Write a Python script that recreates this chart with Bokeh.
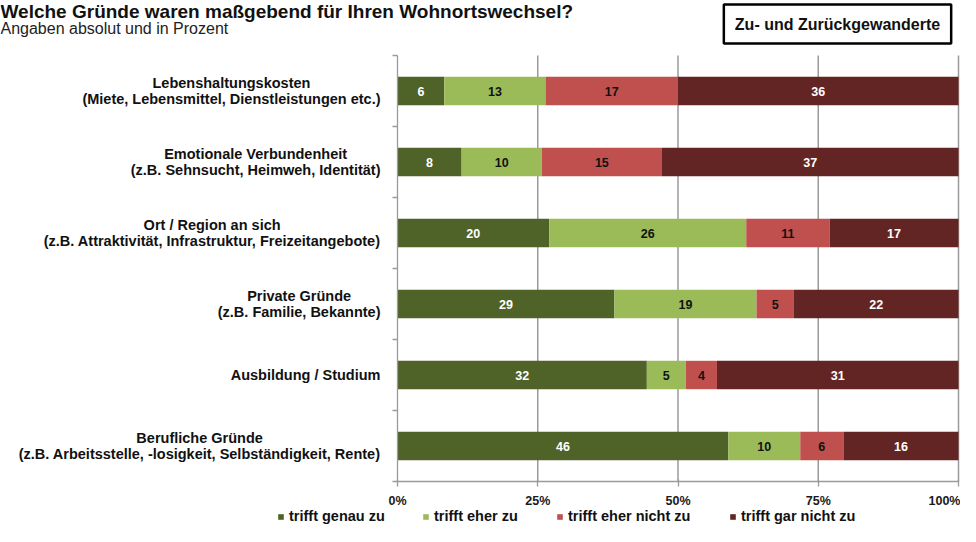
from bokeh.plotting import figure
from bokeh.models import Label, Legend, LegendItem, FixedTicker, ColumnDataSource, Range1d
from bokeh.embed import file_html
from bokeh.resources import INLINE
from bokeh.core.properties import value

# ---------------- data ----------------
categories = [
    "Lebenshaltungskosten\n(Miete, Lebensmittel, Dienstleistungen etc.)",
    "Emotionale Verbundenheit\n(z.B. Sehnsucht, Heimweh, Identität)",
    "Ort / Region an sich\n(z.B. Attraktivität, Infrastruktur, Freizeitangebote)",
    "Private Gründe\n(z.B. Familie, Bekannte)",
    "Ausbildung / Studium",
    "Berufliche Gründe\n(z.B. Arbeitsstelle, -losigkeit, Selbständigkeit, Rente)",
]
series_names = ["trifft genau zu", "trifft eher zu", "trifft eher nicht zu", "trifft gar nicht zu"]
genau = [6, 8, 20, 29, 32, 46]
eher = [13, 10, 26, 19, 5, 10]
eher_nicht = [17, 15, 11, 5, 4, 6]
gar_nicht = [36, 37, 17, 22, 31, 16]
x_ticks = [0, 25, 50, 75, 100]
x_tick_labels = ["0%", "25%", "50%", "75%", "100%"]

title_text = "Welche Gründe waren maßgebend für Ihren Wohnortswechsel?"
subtitle_text = "Angaben absolut und in Prozent"
box_text = "Zu- und Zurückgewanderte"

# ---------------- style / layout ----------------
colors = ["#4F6228", "#9BBB59", "#C0504D", "#632523"]
label_colors = ["#ffffff", "#111111", "#111111", "#ffffff"]
FONT = "Liberation Sans"
GRID = "#9a9a9a"

W, H = 960, 526
X0_PX, X1_PX = 397, 958        # canvas x of 0% and 100%
TOP_PX, BOT_PX = 55, 481       # canvas y (from top) of bar area top / bottom
n = len(categories)

px_per_pct = (X1_PX - X0_PX) / 100.0
px_per_row = (BOT_PX - TOP_PX) / n
x_start = -X0_PX / px_per_pct
x_end = 100 + (W - X1_PX) / px_per_pct
y_start = -(H - BOT_PX) / px_per_row
y_end = n + TOP_PX / px_per_row

p = figure(width=W, height=H, output_backend="svg", toolbar_location=None,
           x_range=Range1d(x_start, x_end), y_range=Range1d(y_start, y_end),
           min_border=0, min_border_left=0, min_border_right=0,
           min_border_top=0, min_border_bottom=0)
p.outline_line_color = None
p.background_fill_color = "white"
p.xgrid.visible = False
p.ygrid.visible = False

# x axis (fixed at the bottom of the bar area)
xa = p.xaxis[0]
xa.fixed_location = 0
xa.bounds = (0, 100)
xa.ticker = FixedTicker(ticks=x_ticks)
xa.major_label_overrides = {t: l for t, l in zip(x_ticks, x_tick_labels)}
xa.axis_line_color = GRID
xa.axis_line_width = 1.3
xa.major_tick_line_color = GRID
xa.major_tick_line_width = 1.3
xa.major_tick_in = 2
xa.major_tick_out = 5
xa.minor_tick_line_color = None
xa.major_label_standoff = 7
xa.major_label_text_font = FONT
xa.major_label_text_font_style = "bold"
xa.major_label_text_font_size = "12.5px"
xa.major_label_text_color = "#1a1a1a"

# y axis (fixed at 0%); category boundaries marked with (label-less) minor ticks
ya = p.yaxis[0]
ya.fixed_location = 0
ya.bounds = (0, n)
ya.ticker = FixedTicker(ticks=[], minor_ticks=list(range(n + 1)))
ya.axis_line_color = GRID
ya.axis_line_width = 1.3
ya.major_tick_line_color = None
ya.minor_tick_line_color = GRID
ya.minor_tick_line_width = 1.3
ya.minor_tick_in = 0
ya.minor_tick_out = 5

# vertical grid lines over the bar area only
gx = x_ticks[1:]
p.segment(x0=gx, x1=gx, y0=[0] * len(gx), y1=[n] * len(gx),
          line_color=GRID, line_width=1.5, level="underlay")

# bars
ys = [n - 0.5 - i for i in range(n)]
series = [genau, eher, eher_nicht, gar_nicht]
totals = [sum(s[i] for s in series) for i in range(n)]
cum = [0.0] * n
renderers = []
for k, s in enumerate(series):
    left = cum[:]
    right = [cum[i] + 100.0 * s[i] / totals[i] for i in range(n)]
    cum = right
    src = ColumnDataSource(dict(y=ys, left=left, right=right,
                                mid=[(l + r) / 2 for l, r in zip(left, right)],
                                lab=[str(v) for v in s]))
    r = p.hbar(y="y", left="left", right="right", height=0.4, source=src,
               fill_color=colors[k], line_color=None)
    p.text(x="mid", y="y", text="lab", source=src, text_align="center",
           text_baseline="middle", text_color=label_colors[k],
           text_font=value(FONT), text_font_style="bold", text_font_size="12.5px")
    renderers.append(r)

# category labels (block right-aligned, lines centered)
for yy, cat in zip(ys, categories):
    p.add_layout(Label(x=0, y=yy, x_offset=-17, text=cat,
                       anchor="center_right", text_align="center",
                       text_line_height=1.05,
                       text_font=FONT, text_font_style="bold", text_font_size="14.5px",
                       text_color="#111111"))

# title + subtitle
p.add_layout(Label(x=0, y=H, x_units="screen", y_units="screen",
                   text=title_text, text_align="left", text_baseline="top",
                   text_font=FONT, text_font_style="bold", text_font_size="19px",
                   text_color="#111111"))
p.add_layout(Label(x=0, y=H - 19, x_units="screen", y_units="screen",
                   text=subtitle_text, text_align="left", text_baseline="top",
                   text_font=FONT, text_font_size="16px", text_color="#222222"))

# boxed label
p.add_layout(Label(x=837, y=H - 23.5, x_units="screen", y_units="screen",
                   text=box_text, anchor="center", text_align="center",
                   text_baseline="middle",
                   text_font=FONT, text_font_style="bold", text_font_size="16px",
                   text_color="#111111", border_line_color="black",
                   border_line_width=2.5, background_fill_color="white",
                   padding=dict(left=11, right=11, top=11, bottom=11)))

# legend: one entry per series
leg_x = [277, 422, 556, 729]
for k in range(len(series)):
    lg = Legend(items=[LegendItem(label=series_names[k], renderers=[renderers[k]])],
                location=(leg_x[k], 2), orientation="horizontal",
                padding=0, margin=0, spacing=0, label_standoff=5,
                glyph_width=7, glyph_height=7, label_height=16,
                label_text_font=FONT, label_text_font_style="bold",
                label_text_font_size="14.5px", label_text_color="#111111",
                border_line_color=None, background_fill_alpha=0)
    p.add_layout(lg)

open("out.html", "w").write(file_html(p, INLINE))
